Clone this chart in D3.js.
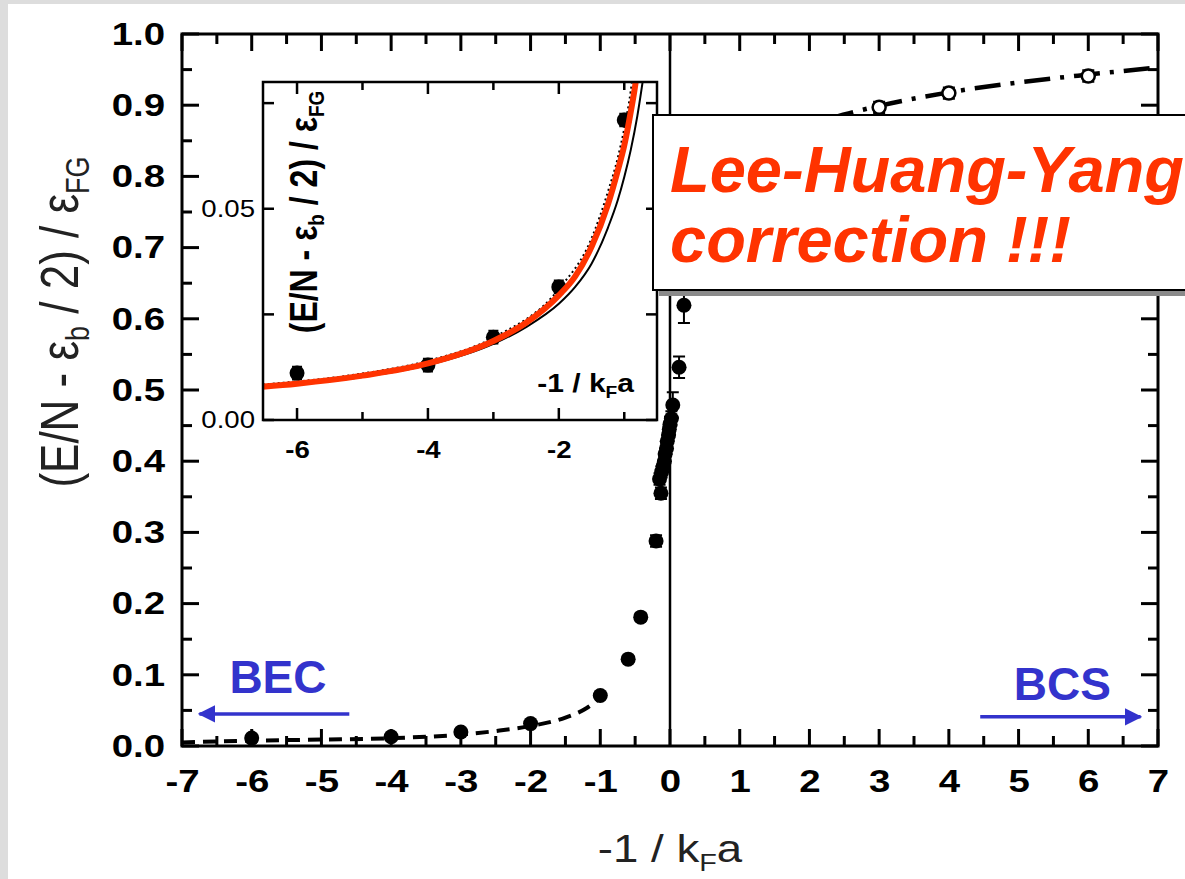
<!DOCTYPE html>
<html>
<head>
<meta charset="utf-8">
<script src="https://cdn.jsdelivr.net/npm/d3@7"></script>
<style>
  body { margin: 0; background: #dddddd; }
  svg { display: block; }
  text { font-family: "Liberation Sans", Arial, sans-serif; }
</style>
</head>
<body>
<div id="chart"></div>
<script>
'use strict';

// ---- data ----

// measured energies, BEC side and crossover (filled circles)
const bec_x   = [-6, -4, -3, -2, -1, -0.6, -0.42, -0.2, -0.13, -0.15, -0.12, -0.1, -0.08, -0.07, -0.05, -0.04, -0.02, -0.01, 0.0, 0.02, 0.04, 0.13, 0.2];
const bec_y   = [0.0111, 0.013, 0.0196, 0.0315, 0.071, 0.122, 0.181, 0.288, 0.355, 0.375, 0.385, 0.393, 0.40, 0.41, 0.418, 0.428, 0.437, 0.445, 0.452, 0.46, 0.479, 0.532, 0.619];
const bec_err = [0.002, 0.002, 0.002, 0.003, 0.004, 0.004, 0.005, 0.008, 0.008, 0.008, 0.008, 0.008, 0.008, 0.008, 0.008, 0.008, 0.008, 0.008, 0.01, 0.01, 0.018, 0.015, 0.025];

// BCS side (open circles)
const bcs_x   = [3, 4, 6];
const bcs_y   = [0.897, 0.917, 0.941];
const bcs_err = [0.008, 0.008, 0.008];

// theory curves in the main panel
const bec_curve_x = [-7, -6, -5, -4, -3, -2.5, -2, -1.5, -1.2, -1];
const bec_curve_y = [0.005, 0.0075, 0.009, 0.011, 0.016, 0.021, 0.028, 0.04, 0.053, 0.068];
const bcs_curve_x = [1.6, 2, 2.5, 3, 4, 5, 6, 7];
const bcs_curve_y = [0.855, 0.872, 0.887, 0.899, 0.918, 0.932, 0.943, 0.953];

// main axis ticks
const x_ticks = [-7, -6, -5, -4, -3, -2, -1, 0, 1, 2, 3, 4, 5, 6, 7];
const y_ticks = [0, 0.1, 0.2, 0.3, 0.4, 0.5, 0.6, 0.7, 0.8, 0.9, 1.0];

// inset: data points and three curves
const inset_x = [-6, -4, -3, -2, -1];
const inset_y = [0.0111, 0.013, 0.0196, 0.0315, 0.071];
const lhy_x   = [-6.6, -6, -5, -4, -3, -2.5, -2, -1.75, -1.5, -1.25, -1.1, -1.0, -0.9, -0.83, -0.8];
const lhy_y   = [0.0078, 0.0086, 0.0105, 0.0134, 0.0187, 0.023, 0.0295, 0.034, 0.041, 0.051, 0.059, 0.065, 0.073, 0.0795, 0.083];
const mf_x    = [-6.6, -5, -4, -3, -2.5, -2, -1.75, -1.5, -1.25, -1.1, -1.0, -0.9, -0.8, -0.7, -0.62];
const mf_y    = [0.0077, 0.0102, 0.013, 0.018, 0.022, 0.0275, 0.0315, 0.037, 0.0455, 0.052, 0.0575, 0.064, 0.072, 0.082, 0.09];
const dot_x   = [-6.6, -5, -4, -3, -2, -1.5, -1.25, -1.1, -1.0, -0.9, -0.86];
const dot_y   = [0.0083, 0.011, 0.014, 0.0195, 0.031, 0.043, 0.054, 0.062, 0.069, 0.078, 0.083];
const inset_x_ticks = [-6, -4, -2];
const inset_y_ticks = [0, 0.05];

// ---- layout ----
const W = 1185, H = 879;
const box = { left: 182, right: 1158, top: 34, bottom: 746 };
const ibox = { left: 263, right: 657, top: 82, bottom: 420 };
const SX = 1.2;          // the figure is stretched horizontally
const ink = '#000';
const blue = '#3333cc';
const red = '#ff3300';

const svg = d3.select('#chart').append('svg')
    .attr('width', W)
    .attr('height', H);

// slide background
svg.append('rect').attr('width', W).attr('height', H).attr('fill', '#dddddd');
svg.append('rect').attr('x', 8).attr('y', 4).attr('width', W - 8).attr('height', H - 4).attr('fill', '#fff');

// scales
const x = d3.scaleLinear().domain([-7, 7]).range([box.left, box.right]);
const y = d3.scaleLinear().domain([0, 1]).range([box.bottom, box.top]);
const ix = d3.scaleLinear().domain([-6.52, -0.5]).range([ibox.left, ibox.right]);
const iy = d3.scaleLinear().domain([0, 0.08]).range([ibox.bottom, ibox.top]);

// inward tick marks on one side of a frame
function tickMarks(g, values, scale, side, pos, len, w){
    const horiz = side === 'bottom' || side === 'top';
    const dir = (side === 'left' || side === 'top') ? 1 : -1;
    g.append('g').selectAll('line')
        .data(values)
        .enter().append('line')
        .attr('x1', d => horiz ? scale(d) : pos)
        .attr('x2', d => horiz ? scale(d) : pos + dir * len)
        .attr('y1', d => horiz ? pos : scale(d))
        .attr('y2', d => horiz ? pos + dir * len : scale(d))
        .attr('stroke', ink)
        .attr('stroke-width', w);
}

// tick labels through d3 axes, stretched like the source figure
function labelAxis(g, axis, size, weight, pad){
    g.call(axis.tickSize(0).tickPadding(pad));
    g.select('.domain').remove();
    g.selectAll('line').remove();
    g.selectAll('text')
        .attr('font-size', size)
        .attr('font-weight', weight)
        .attr('fill', ink)
        .attr('font-family', '"Liberation Sans", Arial, sans-serif')
        .attr('transform', `scale(${SX},1)`);
}

// ---- main axes ----
const axes = svg.append('g');
const x_minor = d3.range(-6.5, 7, 1);
const y_minor = d3.range(0.05, 1, 0.1);

tickMarks(axes, x_ticks, x, 'bottom', box.bottom, 17, 3);
tickMarks(axes, x_minor, x, 'bottom', box.bottom, 10, 3);
tickMarks(axes, x_ticks, x, 'top', box.top, 17, 3);
tickMarks(axes, x_minor, x, 'top', box.top, 10, 3);
tickMarks(axes, y_ticks, y, 'left', box.left, 17, 3);
tickMarks(axes, y_minor, y, 'left', box.left, 10, 3);
tickMarks(axes, y_ticks, y, 'right', box.right, 17, 3);
tickMarks(axes, y_minor, y, 'right', box.right, 10, 3);

axes.append('g').attr('transform', `translate(0,${box.bottom})`)
    .call(g => labelAxis(g, d3.axisBottom(x).tickValues(x_ticks).tickFormat(d => String(d)), 32, 'bold', 23));
axes.append('g').attr('transform', `translate(${box.left},0)`)
    .call(g => labelAxis(g, d3.axisLeft(y).tickValues(y_ticks).tickFormat(d => d.toFixed(1)), 32, 'bold', 17 / SX));

// frame
svg.append('rect')
    .attr('x', box.left).attr('y', box.top)
    .attr('width', box.right - box.left).attr('height', box.bottom - box.top)
    .attr('fill', 'none').attr('stroke', ink).attr('stroke-width', 3);

// vertical line at unitarity
svg.append('line')
    .attr('x1', x(0)).attr('x2', x(0))
    .attr('y1', y(0)).attr('y2', y(1))
    .attr('stroke', ink).attr('stroke-width', 2.5);

// axis titles
const ytitle = svg.append('text')
    .attr('transform', `translate(78,322) scale(${SX},1) rotate(-90)`)
    .attr('text-anchor', 'middle')
    .attr('font-size', 44)
    .attr('fill', '#222');
ytitle.append('tspan').text('(E/N - ε');
ytitle.append('tspan').attr('font-size', 27).attr('dy', 9).text('b');
ytitle.append('tspan').attr('dy', -9).text(' / 2) / ε');
ytitle.append('tspan').attr('font-size', 27).attr('dy', 9).text('FG');

const xtitle = svg.append('text')
    .attr('transform', `translate(${x(0)},862) scale(${SX},1)`)
    .attr('text-anchor', 'middle')
    .attr('font-size', 38)
    .attr('fill', '#222');
xtitle.append('tspan').text('-1 / k');
xtitle.append('tspan').attr('font-size', 24).attr('dy', 9).text('F');
xtitle.append('tspan').attr('dy', -9).text('a');

// ---- main curves ----
const line = d3.line().x(d => x(d[0])).y(d => y(d[1])).curve(d3.curveMonotoneX);

svg.append('path')
    .datum(d3.zip(bec_curve_x, bec_curve_y))
    .attr('d', line)
    .attr('fill', 'none').attr('stroke', ink).attr('stroke-width', 4)
    .attr('stroke-dasharray', '13,8');

svg.append('path')
    .datum(d3.zip(bcs_curve_x, bcs_curve_y))
    .attr('d', line)
    .attr('fill', 'none').attr('stroke', ink).attr('stroke-width', 4.5)
    .attr('stroke-dasharray', '26,10,4,10');

// ---- main points ----
function errorBars(g, xs, ys, es, sx, sy, cap){
    const data = d3.zip(xs, ys, es);
    g.selectAll(null).data(data).enter().append('path')
        .attr('d', d => {
            const px = sx(d[0]), lo = sy(d[1] - d[2]), hi = sy(d[1] + d[2]);
            return `M${px},${lo}V${hi}M${px - cap},${lo}H${px + cap}M${px - cap},${hi}H${px + cap}`;
        })
        .attr('stroke', ink).attr('stroke-width', 2).attr('fill', 'none');
}

const pts = svg.append('g');
errorBars(pts, bec_x, bec_y, bec_err, x, y, 6);
pts.selectAll('circle.bec')
    .data(d3.zip(bec_x, bec_y))
    .enter().append('circle')
    .attr('class', 'bec')
    .attr('cx', d => x(d[0])).attr('cy', d => y(d[1]))
    .attr('r', 7.5).attr('fill', ink);

errorBars(pts, bcs_x, bcs_y, bcs_err, x, y, 6);
pts.selectAll('circle.bcs')
    .data(d3.zip(bcs_x, bcs_y))
    .enter().append('circle')
    .attr('class', 'bcs')
    .attr('cx', d => x(d[0])).attr('cy', d => y(d[1]))
    .attr('r', 6.5).attr('fill', '#fff').attr('stroke', ink).attr('stroke-width', 2.5);

// ---- BEC / BCS annotations ----
const defs = svg.append('defs');
defs.append('marker')
    .attr('id', 'arrow')
    .attr('viewBox', '0 0 10 10')
    .attr('refX', 9).attr('refY', 5)
    .attr('markerWidth', 5).attr('markerHeight', 5)
    .attr('orient', 'auto')
    .append('path').attr('d', 'M0,0L10,5L0,10Z').attr('fill', blue);

svg.append('line')
    .attr('x1', x(-4.6)).attr('x2', x(-6.75))
    .attr('y1', y(0.045)).attr('y2', y(0.045))
    .attr('stroke', blue).attr('stroke-width', 3.5)
    .attr('marker-end', 'url(#arrow)');
svg.append('line')
    .attr('x1', x(4.45)).attr('x2', x(6.75))
    .attr('y1', y(0.041)).attr('y2', y(0.041))
    .attr('stroke', blue).attr('stroke-width', 3.5)
    .attr('marker-end', 'url(#arrow)');

svg.append('text')
    .attr('x', x(-6.32)).attr('y', y(0.075))
    .attr('font-size', 46).attr('font-weight', 'bold').attr('fill', blue)
    .text('BEC');
svg.append('text')
    .attr('x', x(4.93)).attr('y', y(0.065))
    .attr('font-size', 46).attr('font-weight', 'bold').attr('fill', blue)
    .text('BCS');

// ---- inset ----
const inset = svg.append('g');
inset.append('rect')
    .attr('x', ibox.left).attr('y', ibox.top)
    .attr('width', ibox.right - ibox.left).attr('height', ibox.bottom - ibox.top)
    .attr('fill', '#fff');

defs.append('clipPath').attr('id', 'inset-clip')
    .append('rect')
    .attr('x', ibox.left).attr('y', ibox.top)
    .attr('width', ibox.right - ibox.left).attr('height', ibox.bottom - ibox.top);

const iline = d3.line().x(d => ix(d[0])).y(d => iy(d[1])).curve(d3.curveMonotoneX);
const icurves = inset.append('g').attr('clip-path', 'url(#inset-clip)');

// inset titles sit inside the frame
const iytitle = inset.append('text')
    .attr('transform', `translate(317,212) scale(${SX},1) rotate(-90)`)
    .attr('text-anchor', 'middle')
    .attr('font-size', 32).attr('font-weight', 'bold').attr('fill', ink);
iytitle.append('tspan').text('(E/N - ε');
iytitle.append('tspan').attr('font-size', 19).attr('dy', 6).text('b');
iytitle.append('tspan').attr('dy', -6).text(' / 2) / ε');
iytitle.append('tspan').attr('font-size', 19).attr('dy', 6).text('FG');

const ixtitle = inset.append('text')
    .attr('transform', `translate(634,392) scale(${SX},1)`)
    .attr('text-anchor', 'end')
    .attr('font-size', 25).attr('font-weight', 'bold').attr('fill', ink);
ixtitle.append('tspan').text('-1 / k');
ixtitle.append('tspan').attr('font-size', 16).attr('dy', 6).text('F');
ixtitle.append('tspan').attr('dy', -6).text('a');

icurves.append('path')
    .datum(d3.zip(mf_x, mf_y))
    .attr('d', iline)
    .attr('fill', 'none').attr('stroke', ink).attr('stroke-width', 2);

icurves.append('path')
    .datum(d3.zip(dot_x, dot_y))
    .attr('d', iline)
    .attr('fill', 'none').attr('stroke', ink).attr('stroke-width', 2)
    .attr('stroke-dasharray', '2,3');

errorBars(icurves, inset_x, inset_y, inset_x.map(() => 0.0015), ix, iy, 5);
icurves.selectAll('circle')
    .data(d3.zip(inset_x, inset_y))
    .enter().append('circle')
    .attr('cx', d => ix(d[0])).attr('cy', d => iy(d[1]))
    .attr('r', 7.5).attr('fill', ink);

icurves.append('path')
    .datum(d3.zip(lhy_x, lhy_y))
    .attr('d', iline)
    .attr('fill', 'none').attr('stroke', red).attr('stroke-width', 6);

// inset axes
const ix_minor = [-5, -3, -1];
const iy_minor = [0.025, 0.075];
tickMarks(inset, inset_x_ticks, ix, 'bottom', ibox.bottom, 12, 2.5);
tickMarks(inset, ix_minor, ix, 'bottom', ibox.bottom, 8, 2.5);
tickMarks(inset, inset_x_ticks, ix, 'top', ibox.top, 12, 2.5);
tickMarks(inset, ix_minor, ix, 'top', ibox.top, 8, 2.5);
tickMarks(inset, inset_y_ticks.concat(iy_minor), iy, 'left', ibox.left, 11, 2.5);
tickMarks(inset, inset_y_ticks.concat(iy_minor), iy, 'right', ibox.right, 11, 2.5);

inset.append('g').attr('transform', `translate(0,${ibox.bottom})`)
    .call(g => labelAxis(g, d3.axisBottom(ix).tickValues(inset_x_ticks).tickFormat(d => String(d)), 23, 'bold', 22));
inset.append('g').attr('transform', `translate(${ibox.left},0)`)
    .call(g => labelAxis(g, d3.axisLeft(iy).tickValues(inset_y_ticks).tickFormat(d => d.toFixed(2)), 23, 'normal', 8 / SX));

inset.append('rect')
    .attr('x', ibox.left).attr('y', ibox.top)
    .attr('width', ibox.right - ibox.left).attr('height', ibox.bottom - ibox.top)
    .attr('fill', 'none').attr('stroke', ink).attr('stroke-width', 2.5);

// ---- Lee-Huang-Yang call-out ----
const callout = svg.append('g');
callout.append('rect')
    .attr('x', 659).attr('y', 121).attr('width', 560).attr('height', 175)
    .attr('fill', '#8a8a8a');
callout.append('rect')
    .attr('x', 653).attr('y', 115).attr('width', 560).attr('height', 175)
    .attr('fill', '#fff').attr('stroke', ink).attr('stroke-width', 2);
callout.append('text')
    .attr('x', 670).attr('y', 192)
    .attr('font-size', 65).attr('font-weight', 'bold').attr('font-style', 'italic')
    .attr('fill', red)
    .text('Lee-Huang-Yang');
callout.append('text')
    .attr('x', 670).attr('y', 262)
    .attr('font-size', 65).attr('font-weight', 'bold').attr('font-style', 'italic')
    .attr('fill', red)
    .text('correction !!!');
</script>
</body>
</html>
